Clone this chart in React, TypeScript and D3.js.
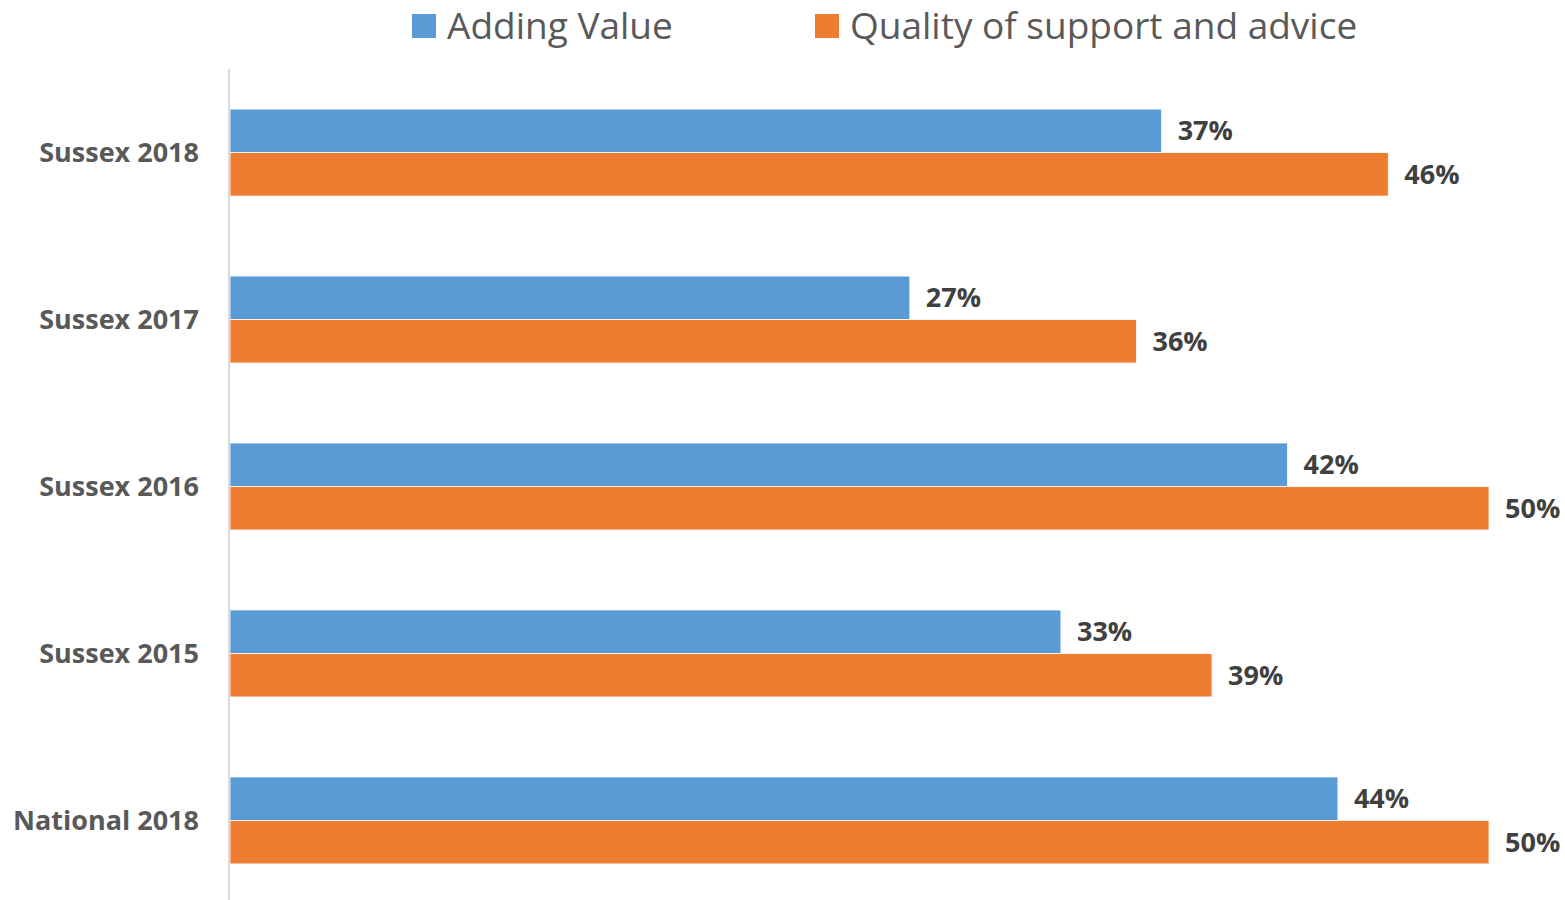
import React from "react";
import * as d3 from "d3";

const categories = ["Sussex 2018", "Sussex 2017", "Sussex 2016", "Sussex 2015", "National 2018"];
const addingValue = [37, 27, 42, 33, 44];
const qualitySupport = [46, 36, 50, 39, 50];
const seriesNames = ["Adding Value", "Quality of support and advice"];
const seriesColors = ["#5B9BD5", "#ED7D31"];

const W = 1565;
const H = 900;
const FONT = "'Open Sans', 'Liberation Sans', sans-serif";

export default function App() {
  const x = d3.scaleLinear().domain([0, 50]).range([230, 1489]);
  const y = d3
    .scaleBand<string>()
    .domain(categories)
    .range([69, 904])
    .paddingInner(0.479)
    .paddingOuter(0.24);
  const sub = d3.scaleBand<number>().domain([0, 1]).range([0, y.bandwidth()]);
  const series = [addingValue, qualitySupport];

  return (
    <div style={{ position: "absolute", left: 0, top: 0 }}>
      <svg width={W} height={H} style={{ display: "block", background: "#fff" }}>
        {/* legend */}
        <g fontFamily={FONT} fontSize={37} fill="#595959">
          <rect x={412} y={14} width={24} height={24} fill={seriesColors[0]} />
          <text x={447} y={39}>{seriesNames[0]}</text>
          <rect x={815} y={14} width={24} height={24} fill={seriesColors[1]} />
          <text x={850} y={39}>{seriesNames[1]}</text>
        </g>
        {/* bars */}
        {categories.map((c, i) => (
          <g key={c}>
            {series.map((s, j) => {
              const y0 = (y(c) as number) + (sub(j) as number);
              const bh = sub.bandwidth();
              return (
                <g key={j}>
                  <rect
                    x={x(0)}
                    y={y0}
                    width={x(s[i]) - x(0)}
                    height={bh}
                    fill={seriesColors[j]}
                    stroke="#fff"
                    strokeWidth={0.8}
                  />
                  <text
                    x={x(s[i]) + 16}
                    y={y0 + bh / 2}
                    dy="0.35em"
                    fontFamily={FONT}
                    fontWeight={700}
                    fontSize={27}
                    fill="#404040"
                  >
                    {s[i]}%
                  </text>
                </g>
              );
            })}
            <text
              x={199}
              y={(y(c) as number) + y.bandwidth() / 2}
              dy="0.35em"
              textAnchor="end"
              fontFamily={FONT}
              fontWeight={700}
              fontSize={27}
              fill="#595959"
            >
              {c}
            </text>
          </g>
        ))}
        {/* axis */}
        <line x1={229} x2={229} y1={69} y2={H} stroke="#D9D9D9" strokeWidth={2} />
      </svg>
    </div>
  );
}
